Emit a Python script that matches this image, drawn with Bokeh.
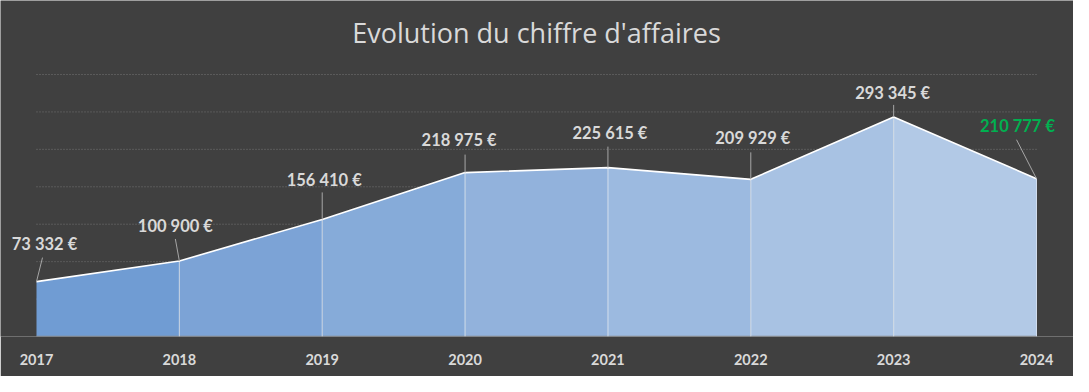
from bokeh.plotting import figure
from bokeh.models import Range1d, Label, FixedTicker, ColumnDataSource
from bokeh.core.properties import value
from bokeh.embed import file_html
from bokeh.resources import INLINE

# ---- data ----
years = [2017, 2018, 2019, 2020, 2021, 2022, 2023, 2024]
revenue = [73332, 100900, 156410, 218975, 225615, 209929, 293345, 210777]
title_text = "Evolution du chiffre d'affaires"
y_max = 350000
grid_step = 50000

labels = [f"{v:,}".replace(",", " ") + " €" for v in revenue]

# ---- styling ----
BG = "#404040"
TXT = "#d9d9d9"
GREEN = "#00b050"
c_left = (107, 152, 209)
c_right = (184, 205, 232)

W, H = 1073, 376
pad_l, pad_r = 36, 37          # px outside the 2017..2024 span
pad_top, pad_bottom = 74, 40   # px above y_max, axis space below
span_w = W - pad_l - pad_r
span_h = H - pad_top - pad_bottom
px_per_year = span_w / (years[-1] - years[0])
px_per_val = span_h / y_max

x0 = years[0] - pad_l / px_per_year
x1 = years[-1] + pad_r / px_per_year
y1 = y_max + pad_top / px_per_val

p = figure(width=W, height=H, output_backend="svg", toolbar_location=None,
           x_range=Range1d(x0, x1), y_range=Range1d(0, y1),
           min_border_left=0, min_border_right=0,
           min_border_top=0, min_border_bottom=pad_bottom)
p.background_fill_color = BG
p.border_fill_color = BG
p.outline_line_color = None
p.grid.visible = False
p.yaxis.visible = False

# dotted gridlines, only across the data span
grid_vals = list(range(grid_step, y_max + 1, grid_step))
p.segment(x0=[years[0]] * len(grid_vals), y0=grid_vals,
          x1=[years[-1]] * len(grid_vals), y1=grid_vals,
          line_color="#747474", line_dash="1 2", line_width=1)

# x axis (labels only)
p.xaxis.ticker = FixedTicker(ticks=years)
p.xaxis.major_tick_line_color = None
p.xaxis.minor_tick_line_color = None
p.xaxis.axis_line_color = None
p.xaxis.major_label_text_color = TXT
p.xaxis.major_label_text_font = "Lato"
p.xaxis.major_label_text_font_style = "bold"
p.xaxis.major_label_text_font_size = "14.5px"
p.xaxis.major_label_standoff = 11

# gradient-like area: one band per segment
n = len(years) - 1
for i in range(n):
    t = (i + 0.5) / n
    col = tuple(int(round(a + (b - a) * t)) for a, b in zip(c_left, c_right))
    p.varea(x=[years[i], years[i + 1]], y1=[0, 0], y2=[revenue[i], revenue[i + 1]],
            fill_color="#%02x%02x%02x" % col, fill_alpha=1)

# baseline
p.segment(x0=[years[0]], y0=[0], x1=[years[-1]], y1=[0],
          line_color="#8c8c8c", line_width=1.5)

# vertical drop lines at inner points
p.segment(x0=years[1:-1], y0=[0] * (n - 1), x1=years[1:-1], y1=revenue[1:-1],
          line_color="#eef3fa", line_alpha=0.75, line_width=1)
# right edge
p.segment(x0=[years[-1]], y0=[0], x1=[years[-1]], y1=[revenue[-1]],
          line_color="#d0dcee", line_width=1)

# top line
p.line(years, revenue, line_color="#ffffff", line_width=1.6)

# leader lines (pixel offsets from each point)
lead_dx = [6, -4, 0, 0, 0, 0, 0, -20]
lead_dy = [-24, -22, -27, -18, -21, -27, -12, -39]
p.segment(x0=years, y0=revenue,
          x1=[x + dx / px_per_year for x, dx in zip(years, lead_dx)],
          y1=[v - dy / px_per_val for v, dy in zip(revenue, lead_dy)],
          line_color="#a6a6a6", line_width=1)

# data labels
lab_dx = [8, -4, 2, -6, 2, 2, -1, -19]
lab_dy = [-38, -35, -39, -33, -35, -41, -24, -53]
src = ColumnDataSource(dict(
    x=[x + dx / px_per_year for x, dx in zip(years, lab_dx)],
    y=[v - dy / px_per_val for v, dy in zip(revenue, lab_dy)],
    text=labels,
    color=[TXT] * (len(years) - 1) + [GREEN],
))
p.text(x="x", y="y", text="text", source=src, text_color="color",
       text_font=value("Lato"), text_font_style="bold", text_font_size="16.5px",
       text_align="center", text_baseline="middle")

# title
p.add_layout(Label(x=(years[0] + years[-1]) / 2, y=304 / px_per_val,
                   text=title_text, text_color=TXT, text_font="Open Sans",
                   text_font_size="27px", text_align="center", text_baseline="middle"))

open("out.html", "w").write(file_html(p, INLINE))
